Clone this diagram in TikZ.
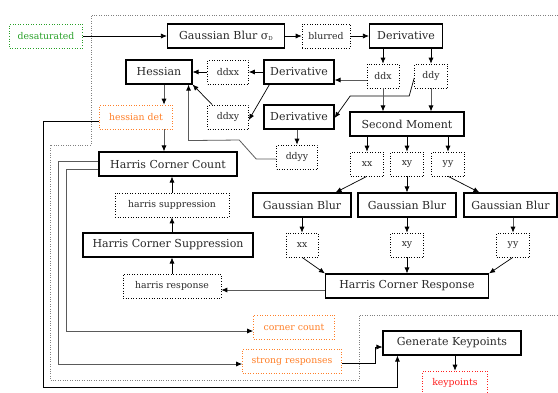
\documentclass[tikz,border=0pt]{standalone}
\usepackage{fontspec}
\setmainfont{DejaVu Serif}
\usetikzlibrary{calc,arrows.meta}
\definecolor{txt}{RGB}{40,40,40}
\definecolor{grn}{RGB}{40,160,40}
\definecolor{org}{RGB}{255,127,40}
\definecolor{rd}{RGB}{255,30,30}
\definecolor{edgegray}{RGB}{90,90,90}
\tikzset{
  solidbox/.style={draw=black, line width=1.1pt, minimum height=24pt, inner sep=0pt, text=txt, font=\fontsize{11}{13}\selectfont},
  dotbox/.style={draw=black, dotted, line width=0.6pt, minimum height=24pt, inner sep=0pt, text=txt, font=\fontsize{9.3}{11}\selectfont},
  arr/.style={draw=black, line width=0.7pt, -{Latex[length=6pt,width=5pt]}},
  garr/.style={draw=edgegray, line width=0.8pt, -{Latex[length=6pt,width=5pt,color=black]}},
  cluster/.style={draw=gray, line width=0.6pt, dash pattern=on 0.8pt off 1.6pt}
}
\begin{document}
\begin{tikzpicture}[x=1pt,y=-1pt]
\useasboundingbox (0,0) rectangle (558,392);
\draw[cluster] (558,15) -- (91,15) -- (91,145) -- (50,145) -- (50,380) -- (359,380) -- (359,315) -- (558,315);
% nodes
\node[dotbox, draw=grn, text=grn, minimum width=73pt] (desat) at (46,36) {desaturated};
\node[solidbox, minimum width=117pt] (gb) at (226,36) {Gaussian Blur σ{\fontsize{5.5}{5.5}\selectfont\raisebox{-1.5pt}{D}}};
\node[dotbox, minimum width=48pt] (blurred) at (326,36) {blurred};
\node[solidbox, minimum width=73pt] (der1) at (406,36) {Derivative};
\node[solidbox, minimum width=66pt] (hess) at (159,72) {Hessian};
\node[dotbox, minimum width=41pt] (ddxx) at (228,72) {ddxx};
\node[solidbox, minimum width=70pt] (der2) at (299,72) {Derivative};
\node[dotbox, minimum width=32pt] (ddx) at (383,76) {ddx};
\node[dotbox, minimum width=33pt] (ddy) at (431,76) {ddy};
\node[dotbox, draw=org, text=org, minimum width=73pt] (hdet) at (136,117) {hessian det};
\node[dotbox, minimum width=41pt] (ddxy) at (228,117) {ddxy};
\node[solidbox, minimum width=70pt] (der3) at (299,117) {Derivative};
\node[solidbox, minimum width=114pt] (sm) at (407,124) {Second Moment};
\node[dotbox, minimum width=41pt] (ddyy) at (297,157) {ddyy};
\node[solidbox, minimum width=138pt] (hcc) at (168,164) {Harris Corner Count};
\node[dotbox, minimum width=33pt] (xxa) at (367,164) {xx};
\node[dotbox, minimum width=33pt] (xya) at (407,164) {xy};
\node[dotbox, minimum width=33pt] (yya) at (448,164) {yy};
\node[dotbox, minimum width=114pt] (hsupp) at (172,205) {harris suppression};
\node[solidbox, minimum width=98pt] (gba) at (302,205) {Gaussian Blur};
\node[solidbox, minimum width=98pt] (gbb) at (407,205) {Gaussian Blur};
\node[solidbox, minimum width=93pt] (gbc) at (510.5,205) {Gaussian Blur};
\node[solidbox, minimum width=170pt] (hcs) at (168,245) {Harris Corner Suppression};
\node[dotbox, minimum width=32pt] (xxb) at (302,245) {xx};
\node[dotbox, minimum width=33pt] (xyb) at (407,245) {xy};
\node[dotbox, minimum width=33pt] (yyb) at (513,245) {yy};
\node[dotbox, minimum width=98pt] (hresp) at (172,286) {harris response};
\node[solidbox, minimum width=163pt] (hcr) at (407,286) {Harris Corner Response};
\node[dotbox, draw=org, text=org, minimum width=81pt] (cc) at (294,327) {corner count};
\node[solidbox, minimum width=138pt] (gk) at (452,343) {Generate Keypoints};
\node[dotbox, draw=org, text=org, minimum width=99pt] (sr) at (292,361) {strong responses};
\node[dotbox, draw=rd, text=rd, minimum width=65pt] (kp) at (455,383) {keypoints};
% edges
\draw[arr] (desat) -- (gb);
\draw[arr] (gb) -- (blurred);
\draw[arr] (blurred) -- (der1);
\draw[arr] (ddx |- der1.south) -- (ddx.north);
\draw[arr] (ddy |- der1.south) -- (ddy.north);
\draw[garr] ($(ddx.west)+(0,4)$) -- ($(der2.east)+(0,8)$);
\draw[arr] ($(ddy.west)+(0,2)$) -- ++(-5,18) -- ++(-59,0) -- ($(der3.east)+(0,1)$);
\draw[garr] (ddx.south) -- (ddx.south |- sm.north);
\draw[garr] (ddy.south) -- (ddy.south |- sm.north);
\draw[arr] (der2.west) -- (ddxx.east);
\draw[arr] ($(der2.south west)+(6,0)$) -- ($(ddxy.east)+(0,3)$);
\draw[arr] (ddxx.west) -- (hess.east);
\draw[arr] ($(ddxy.north west)+(5,0)$) -- (hess.south east);
\draw[garr] ($(ddyy.west)+(0,2)$) -- ++(-20,0) -- ++(-17,-19) -- ($(hess.south east)+(-4,56)$) -- ($(hess.south east)+(-4,0)$);
\draw[garr] (ddyy |- der3.south) -- (ddyy.north);
\coordinate (c1) at ($(hess.south)+(5,0)$);
\draw[garr] (c1) -- (c1 |- hdet.north);
\draw[garr] (c1 |- hdet.south) -- (c1 |- hcc.north);
\draw[arr] ($(hdet.west)+(0,4)$) -- (43,121) -- (43,387) -| ($(gk.south west)+(15,0)$);
\draw[arr] (xxa |- sm.south) -- (xxa.north);
\draw[arr] (xya |- sm.south) -- (xya.north);
\draw[arr] (yya |- sm.south) -- (yya.north);
\draw[arr] (xxa.south) -- ($(gba.north east)+(-16,0)$);
\draw[arr] (xya.south) -- (gbb.north);
\draw[arr] (yya.south) -- ($(gbc.north west)+(16,0)$);
\draw[arr] (xxb |- gba.south) -- (xxb.north);
\draw[arr] (xyb |- gbb.south) -- (xyb.north);
\draw[garr] (yyb |- gbc.south) -- (yyb.north);
\draw[arr] (xxb.south) -- ($(hcr.north west)+(0,0)$);
\draw[arr] (xyb.south) -- (hcr.north);
\draw[arr] (yyb.south) -- (hcr.north east);
\draw[garr] ($(hcr.west)+(0,4)$) -- ($(hresp.east)+(0,4)$);
\draw[arr] (hresp.north) -- (hresp.north |- hcs.south);
\draw[arr] (hsupp.south |- hcs.north) -- (hsupp.south);
\draw[arr] (hsupp.north) -- (hsupp.north |- hcc.south);
\draw[garr] ($(hcc.west)+(0,5)$) -- (66,169) |- ($(cc.west)+(0,4)$);
\draw[garr] ($(hcc.west)+(0,-3)$) -- (58,161) |- ($(sr.west)+(0,3)$);
\draw[arr] ($(sr.east)+(0,2)$) -- (375,363) |- ($(gk.west)+(0,4)$);
\draw[arr] (kp.north |- gk.south) -- (kp.north);
\end{tikzpicture}
\end{document}
